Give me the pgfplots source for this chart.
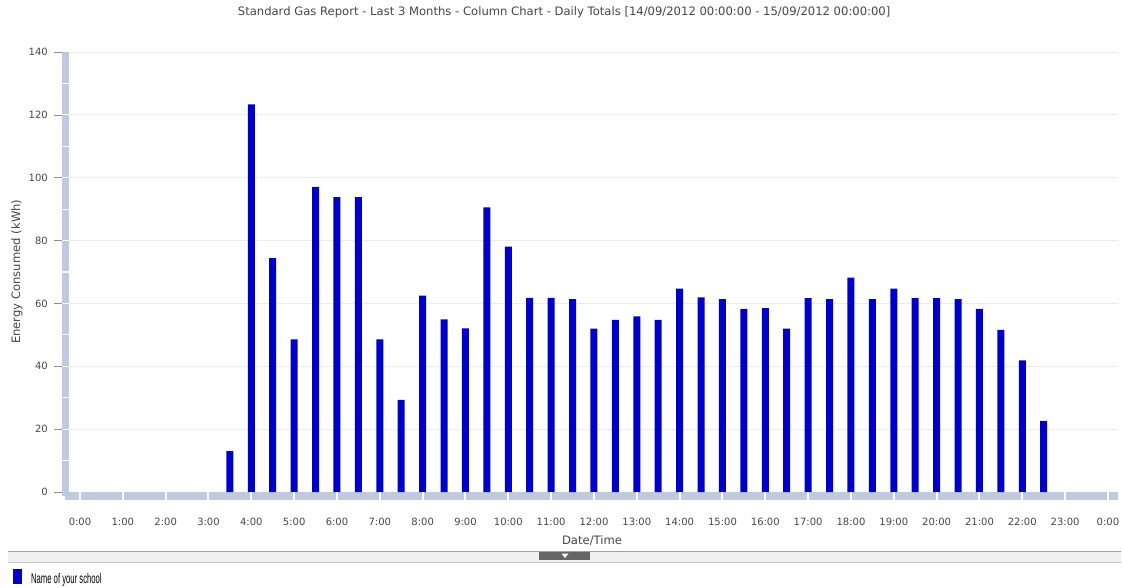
\documentclass[border=0pt]{standalone}
\usepackage{pgfplots}
\pgfplotsset{compat=1.18}
\usepackage{fontspec}
\setmainfont{DejaVu Sans}
\newfontfamily\legendfont{Liberation Sans}

\definecolor{barblue}{RGB}{0,0,200}
\definecolor{band}{RGB}{191,203,220}
\definecolor{gridgrey}{RGB}{236,236,236}
\definecolor{labelgrey}{RGB}{70,70,70}

\begin{document}
\begin{tikzpicture}
\path[use as bounding box] (0,0) rectangle (1123pt,-587pt);
\begin{axis}[
    at={(65pt,-496pt)}, anchor=south west,
    scale only axis, width=1053pt, height=444pt,
    xmin=-0.35, xmax=24.235,
    ymin=-1.27, ymax=140,
    clip=false,
    axis x line*=bottom, axis y line*=left,
    x axis line style={-, line width=8pt, draw=band},
    y axis line style={-, line width=7pt, draw=band},
    xtick={0,...,24},
    xticklabels={0:00,1:00,2:00,3:00,4:00,5:00,6:00,7:00,8:00,9:00,10:00,11:00,12:00,
                 13:00,14:00,15:00,16:00,17:00,18:00,19:00,20:00,21:00,22:00,23:00,0:00},
    ytick={0,20,...,140},
    ymajorgrids=true,
    grid style={gridgrey, line width=0.8pt},
    tick align=inside,
    major tick length=8pt,
    xtick style={draw=none},
    ytick style={labelgrey!60, line width=0.7pt, xshift=-11pt},
    /pgf/number format/assume math mode=true,
    ticklabel style={font=\fontsize{10}{12}\selectfont, text=labelgrey},
    xticklabel style={anchor=center, yshift=-26pt},
    yticklabel style={anchor=east, inner sep=0pt, xshift=-17pt},
    title={Standard Gas Report - Last 3 Months - Column Chart - Daily Totals [14/09/2012 00:00:00 - 15/09/2012 00:00:00]},
    title style={at={(0.474,1.0766)}, anchor=center, yshift=0pt, font=\fontsize{11.6}{13}\selectfont, text=labelgrey},
    xlabel={Date/Time},
    xlabel style={at={(axis description cs:0.5005,-0.101)}, anchor=center, font=\fontsize{11.6}{13}\selectfont, text=labelgrey},
    ylabel={Energy Consumed (kWh)},
    ylabel style={at={(axis description cs:-0.0456,0.505)}, anchor=center, rotate=0, font=\fontsize{11.6}{13}\selectfont, text=labelgrey},
    legend style={at={(axis description cs:-0.0495,-0.164)}, anchor=north west, draw=none, fill=none,
                  inner sep=0pt, font=\legendfont\fontsize{14}{16}\selectfont, text=black},
    legend image code/.code={\fill[barblue] (0pt,-7.5pt) rectangle (9pt,7.5pt);},
]

\addplot[ybar, bar width=7pt, fill=barblue, draw=none]
    coordinates {
(3.5,13.0)
(4.0,123.3)
(4.5,74.4)
(5.0,48.6)
(5.5,97.1)
(6.0,93.8)
(6.5,93.8)
(7.0,48.6)
(7.5,29.3)
(8.0,62.5)
(8.5,54.9)
(9.0,52.1)
(9.5,90.6)
(10.0,78.1)
(10.5,61.8)
(11.0,61.8)
(11.5,61.4)
(12.0,52.0)
(12.5,54.8)
(13.0,55.9)
(13.5,54.8)
(14.0,64.7)
(14.5,61.9)
(15.0,61.4)
(15.5,58.3)
(16.0,58.5)
(16.5,52.0)
(17.0,61.7)
(17.5,61.4)
(18.0,68.2)
(18.5,61.4)
(19.0,64.7)
(19.5,61.7)
(20.0,61.7)
(20.5,61.4)
(21.0,58.3)
(21.5,51.6)
(22.0,41.9)
(22.5,22.6)
    };
\addlegendentry{\hspace{7pt}\raisebox{-6pt}{\scalebox{0.55}[1]{Name of your school}}}

% white separators on the axis bands
\pgfplotsinvokeforeach{0,...,24}{
  \draw[white, line width=2pt] ([yshift=4pt]axis cs:#1,-1.27) -- ([yshift=-4pt]axis cs:#1,-1.27);
}
\pgfplotsinvokeforeach{10,20,...,130}{
  \draw[white, line width=1.2pt] ([xshift=-3.5pt]axis cs:-0.35,#1) -- ([xshift=3.5pt]axis cs:-0.35,#1);
}

\end{axis}

% scroll bar under the chart
\fill[gray!12] (8pt,-552pt) rectangle (1121pt,-562pt);
\draw[gray!75, line width=1.5pt] (8pt,-551.5pt) -- (1121pt,-551.5pt);
\draw[gray!45, line width=1pt] (8pt,-562pt) -- (1121pt,-562pt);
\fill[gray!80!black] (539pt,-552pt) rectangle (590pt,-560pt);
\fill[white] (561.5pt,-553.5pt) -- (568.5pt,-553.5pt) -- (565pt,-558pt) -- cycle;
\end{tikzpicture}
\end{document}
